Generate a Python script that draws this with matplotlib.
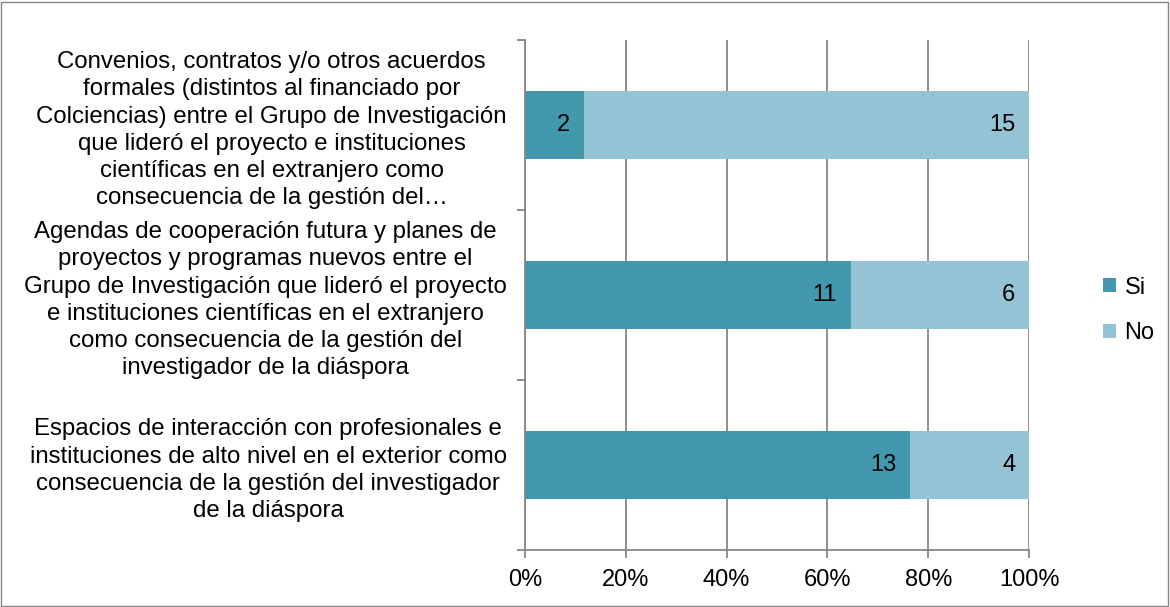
import matplotlib.pyplot as plt
import numpy as np

# categorías (de abajo hacia arriba, como en el eje)
categorias = [
    "Espacios de interacción con profesionales e\ninstituciones de alto nivel en el exterior como\nconsecuencia de la gestión del investigador\nde la diáspora",
    "Agendas de cooperación futura y planes de\nproyectos y programas nuevos entre el\nGrupo de Investigación que lideró el proyecto\ne instituciones científicas en el extranjero\ncomo consecuencia de la gestión del\ninvestigador de la diáspora",
    "Convenios, contratos y/o otros acuerdos\nformales (distintos al financiado por\nColciencias) entre el Grupo de Investigación\nque lideró el proyecto e instituciones\ncientíficas en el extranjero como\nconsecuencia de la gestión del…",
]
si = [13, 11, 2]
no = [4, 6, 15]
series = ["Si", "No"]
colores = ["#4398AE", "#93C3D5"]

plt.rcParams['font.family'] = ['Liberation Sans', 'DejaVu Sans']

fig = plt.figure(figsize=(11.7, 6.07), dpi=100)
fig.patches.append(plt.Rectangle((0.001, 0.002), 0.997, 0.995, transform=fig.transFigure,
                                 fill=False, edgecolor='#868686', linewidth=1))
ax = fig.add_axes([0.4487, 0.0939, 0.4308, 0.8401])

si = np.array(si, dtype=float)
no = np.array(no, dtype=float)
total = si + no
p_si = si / total * 100
p_no = no / total * 100
y = np.arange(len(categorias))

ax.set_axisbelow(True)
ax.grid(axis='x', color='#868686', linewidth=1.3)
ax.barh(y, p_si, height=0.4, color=colores[0], label=series[0])
ax.barh(y, p_no, left=p_si, height=0.4, color=colores[1], label=series[1])

# etiquetas de datos en el extremo interior de cada segmento
for i in range(len(y)):
    ax.annotate(f"{int(si[i])}", (p_si[i], y[i]), xytext=(-10, 0), textcoords='offset points',
                ha='right', va='center', fontsize=17)
    ax.annotate(f"{int(no[i])}", (p_si[i] + p_no[i], y[i]), xytext=(-10, 0), textcoords='offset points',
                ha='right', va='center', fontsize=17)

ax.set_xlim(0, 100)
ax.set_ylim(-0.5, 2.5)
ax.set_xticks(np.arange(0, 101, 20))
ax.set_xticklabels([f"{v}%" for v in range(0, 101, 20)], fontsize=17)
ax.set_yticks(y)
ax.set_yticklabels(categorias, fontsize=17.3, multialignment='center', linespacing=1.30)
ax.set_yticks(np.arange(-0.5, 2.6, 1), minor=True)
ax.tick_params(axis='y', which='major', length=0, pad=13)
ax.tick_params(axis='y', which='minor', length=6, color='#868686', width=1.3)
ax.tick_params(axis='x', length=6, color='#868686', width=1.3, pad=8)

for s in ['top', 'right']:
    ax.spines[s].set_visible(False)
for s in ['left', 'bottom']:
    ax.spines[s].set_color('#868686')
    ax.spines[s].set_linewidth(1.3)

ax.legend(loc='center left', bbox_to_anchor=(1.105, 0.47), frameon=False, fontsize=17,
          handlelength=0.55, handleheight=0.55, handletextpad=0.35, labelspacing=1.0)

fig.savefig("out.png", dpi=100)
